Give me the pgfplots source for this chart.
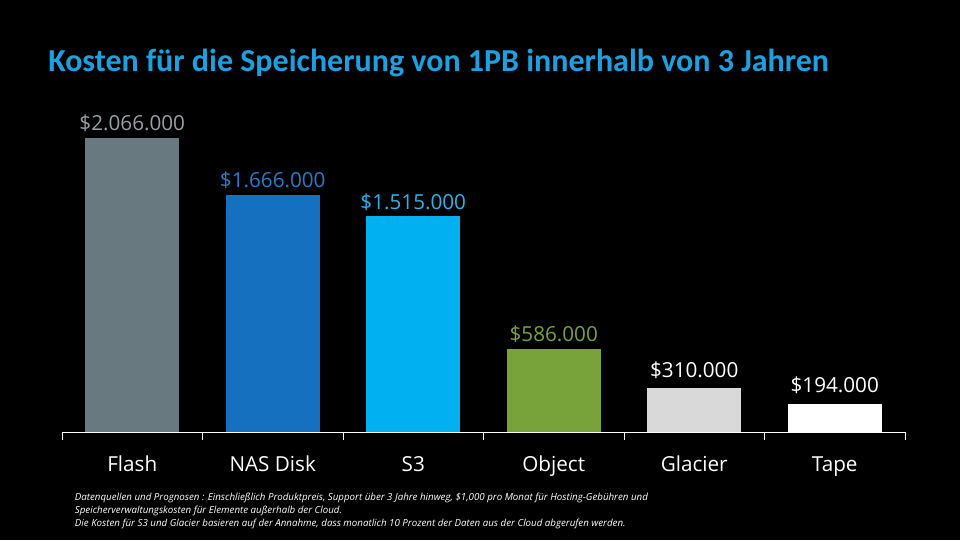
\documentclass[border=0pt]{standalone}
\usepackage{pgfplots}
\pgfplotsset{compat=1.18}
\usepackage{fontspec}
\setmainfont{Open Sans}
\newfontfamily\titlefont{Carlito}

\definecolor{titleblue}{RGB}{27,161,226}
\definecolor{cFlash}{RGB}{104,122,128}
\definecolor{lFlash}{RGB}{150,160,165}
\definecolor{cNas}{RGB}{21,112,192}
\definecolor{lNas}{RGB}{35,125,205}
\definecolor{cS3}{RGB}{0,176,240}
\definecolor{lS3}{RGB}{40,180,240}
\definecolor{cObj}{RGB}{119,163,58}
\definecolor{cGla}{RGB}{217,217,217}

\begin{document}
\begin{tikzpicture}
% background, 960x540 px at 0.75pt per px
\fill[black] (0,0) rectangle (720pt,405pt);

\node[anchor=west, inner sep=0pt, text=titleblue, font=\titlefont\bfseries\fontsize{24}{28}\selectfont]
  at (36pt,358pt) {Kosten für die Speicherung von 1PB innerhalb von 3 Jahren};

\begin{axis}[
  at={(46.5pt,81pt)}, anchor=south west,
  scale only axis,
  width=632.25pt, height=220.5pt,
  xmin=-0.5, xmax=5.5, ymin=0, ymax=2066000,
  axis x line=bottom, axis y line=none,
  x axis line style={-, white, line width=0.75pt},
  xtick={0,1,2,3,4,5},
  xticklabels={Flash, NAS Disk, S3, Object, Glacier, Tape},
  minor xtick={-0.5,0.5,1.5,2.5,3.5,4.5,5.5},
  major tick length=0pt, minor tick length=6pt,
  tick align=outside,
  minor tick style={white, line width=0.75pt},
  xticklabel style={text=white, font=\fontsize{15.5}{18}\selectfont,
    text height=11.8pt, text depth=3.5pt, yshift=-14pt},
  ytick=\empty,
  ybar, bar width=0.67, bar shift=0pt,
  clip=false,
  point meta=explicit symbolic,
  nodes near coords,
  nodes near coords style={font=\fontsize{15.5}{18}\selectfont, anchor=south, yshift=1pt},
]
\addplot[fill=cFlash, draw=none, nodes near coords style={text=lFlash}]
  coordinates {(0,2066000) [\$2.066.000]};
\addplot[fill=cNas, draw=none, nodes near coords style={text=lNas}]
  coordinates {(1,1666000) [\$1.666.000]};
\addplot[fill=cS3, draw=none, nodes near coords style={text=lS3}]
  coordinates {(2,1515000) [\$1.515.000]};
\addplot[fill=cObj, draw=none, nodes near coords style={text=cObj}]
  coordinates {(3,586000) [\$586.000]};
\addplot[fill=cGla, draw=none, nodes near coords style={text=white, yshift=2pt}]
  coordinates {(4,310000) [\$310.000]};
\addplot[fill=white, draw=none, nodes near coords style={text=white, yshift=3.5pt}]
  coordinates {(5,194000) [\$194.000]};
\end{axis}

\node[anchor=north west, align=left, inner sep=0pt, text=white,
  font=\itshape\fontsize{7.3}{9.75}\selectfont] at (56pt,35.6pt)
  {Datenquellen und Prognosen : Einschließlich Produktpreis, Support über 3 Jahre hinweg, \$1,000 pro Monat für Hosting-Gebühren und\\
   Speicherverwaltungskosten für Elemente außerhalb der Cloud.\\
   Die Kosten für S3 und Glacier basieren auf der Annahme, dass monatlich 10 Prozent der Daten aus der Cloud abgerufen werden.};
\end{tikzpicture}
\end{document}
